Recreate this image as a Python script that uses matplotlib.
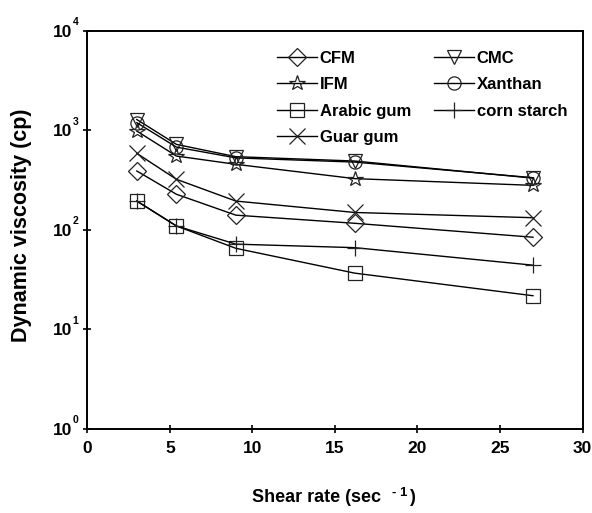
import math
import matplotlib
matplotlib.use("Agg")
import matplotlib.pyplot as plt
from matplotlib.ticker import FixedLocator, FixedFormatter, NullLocator

plt.rcParams['font.family'] = ['Liberation Sans', 'DejaVu Sans']
plt.rcParams['font.weight'] = 'bold'

shear_rate = [3.0, 5.4, 9.0, 16.2, 27.0]
cfm = [389, 227, 140, 116, 84]
ifm = [980, 550, 454, 326, 279]
arabic_gum = [194, 109, 65, 36.6, 21.7]
guar_gum = [585, 321, 194, 149, 132]
cmc = [1280, 720, 542, 490, 330]
xanthan = [1190, 676, 527, 478, 333]
corn_starch = [194, 109, 71.6, 66, 44]

series = [
    ("CFM", cfm, "D", 9),
    ("IFM", ifm, "*", 11.5),
    ("Arabic gum", arabic_gum, "s", 9.5),
    ("Guar gum", guar_gum, "x", 11),
    ("CMC", cmc, "v", 10),
    ("Xanthan", xanthan, "o", 9.5),
    ("corn starch", corn_starch, "+", 12),
]

x_ticks = [0, 5, 10, 15, 20, 25, 30]
y_ticks = [1, 10, 100, 1000, 10000]
y_tick_base = ["10"] * len(y_ticks)
y_tick_exp = ["0", "1", "2", "3", "4"]

W, H = 592, 513
fig = plt.figure(figsize=(W / 100, H / 100), dpi=100)
ax = fig.add_axes([87.3 / W, 1 - 428.7 / H, (582.5 - 87.3) / W, (428.7 - 30.7) / H])

for name, vals, mk, ms in series:
    ax.plot(shear_rate, vals, color='black', lw=1.0, marker=mk, ms=ms,
            mfc='none', mec='#222222', mew=0.9, label=name)

ax.set_yscale('log')
ax.set_xlim(0, 30)
ax.set_ylim(1, 10000)
ax.xaxis.set_major_locator(FixedLocator(x_ticks))
ax.yaxis.set_major_locator(FixedLocator(y_ticks))
ax.yaxis.set_minor_locator(NullLocator())
ax.yaxis.set_major_formatter(FixedFormatter(y_tick_base))
ax.tick_params(direction='inout', length=6, width=1.2, labelsize=12.5)
ax.tick_params(axis='x', pad=6)
ax.tick_params(axis='y', pad=8)
for s in ax.spines.values():
    s.set_linewidth(1.4)

# exponents of y tick labels
for v, e in zip(y_ticks, y_tick_exp):
    ax.annotate(e, xy=(0, v), xycoords=('axes fraction', 'data'),
                xytext=(-6.6, 4.0), textcoords='offset points',
                ha='right', va='baseline', fontsize=7.5, fontweight='bold',
                annotation_clip=False)

# y label
fig.text(21.7 / W, 1 - 225 / H, 'Dynamic viscosity (cp)', rotation=90,
         ha='center', va='center', fontsize=15.5, fontweight='bold')

# x label in pieces (superscript)
fig.canvas.draw()
r = fig.canvas.get_renderer()
base_y = 502.0
t1 = fig.text(251.7 / W, 1 - base_y / H, 'Shear rate (sec', ha='left', va='baseline',
              fontsize=13, fontweight='bold')
bb = t1.get_window_extent(r)
t2 = fig.text((bb.x1 + 11) / W, 1 - (base_y - 6) / H, '- 1', ha='left', va='baseline',
              fontsize=9.5, fontweight='bold')
bb2 = t2.get_window_extent(r)
fig.text((bb2.x1 + 1.5) / W, 1 - base_y / H, ')', ha='left', va='baseline',
         fontsize=13, fontweight='bold')

leg = ax.legend(ncol=2, frameon=False, loc='upper left',
                bbox_to_anchor=(272 / W, 1 - 46 / H), bbox_transform=fig.transFigure,
                fontsize=12, handlelength=2.4, handletextpad=0.15, columnspacing=1.4,
                labelspacing=0.68, numpoints=1, borderaxespad=0.0, borderpad=0.3)
for t in leg.get_texts():
    t.set_fontweight('bold')

fig.savefig('out.png', dpi=100)
